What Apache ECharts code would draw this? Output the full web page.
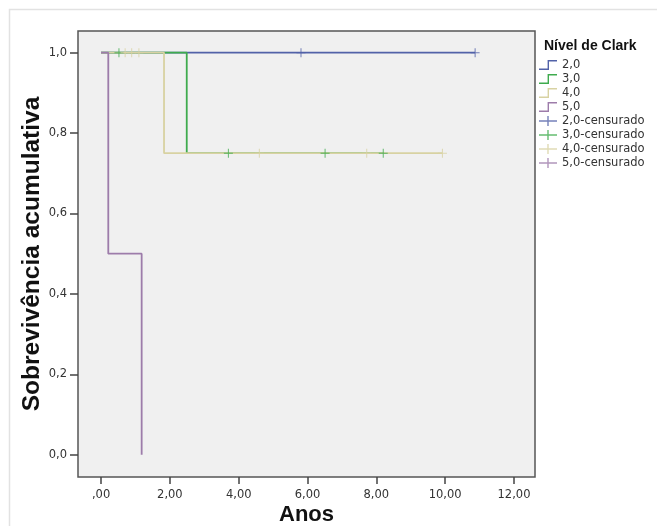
<!DOCTYPE html>
<html><head><meta charset="utf-8">
<script src="https://cdn.jsdelivr.net/npm/echarts@6/dist/echarts.min.js"></script>
<style>html,body{margin:0;padding:0;background:#fff}#c{width:657px;height:526px}</style>
</head><body><div id="c"></div>
<script>
// ---- data ----
const groupNames = ['2,0', '3,0', '4,0', '5,0'];
const censorNames = ['2,0-censurado', '3,0-censurado', '4,0-censurado', '5,0-censurado'];
// Kaplan-Meier step points [anos, sobrevivência]
const curve20 = [[0, 1], [10.87, 1]];
const curve30 = [[0, 1], [2.49, 0.75], [8.20, 0.75]];
const curve40 = [[0, 1], [1.83, 0.75], [9.92, 0.75]];
const curve50 = [[0, 1], [0.21, 0.5], [1.18, 0]];
// censored observations
const cens20 = [[5.81, 1], [10.87, 1]];
const cens30 = [[0.52, 1], [3.70, 0.75], [6.51, 0.75], [8.20, 0.75]];
const cens40 = [[0.70, 1], [0.89, 1], [1.10, 1], [4.60, 0.75], [7.72, 0.75], [9.92, 0.75]];
const cens50 = [];
const xTicks = [0, 2, 4, 6, 8, 10, 12];
const yTicks = [0, 0.2, 0.4, 0.6, 0.8, 1.0];

// ---- styling ----
const colors = ['#5262a8', '#3fab4e', '#d8d2a2', '#9d7caa'];
const curves = [curve20, curve30, curve40, curve50];
const cens = [cens20, cens30, cens40, cens50];
const plusPath = 'path://M4,0 L5,0 L5,4 L9,4 L9,5 L5,5 L5,9 L4,9 L4,5 L0,5 L0,4 L4,4 Z';
const stepIcon = 'path://M0,8.6 L8.6,8.6 L8.6,0 L18,0 L18,1.4 L10,1.4 L10,10 L0,10 Z';
const plusIcon = 'path://M8.3,0 L9.7,0 L9.7,4.3 L18,4.3 L18,5.7 L9.7,5.7 L9.7,10 L8.3,10 L8.3,5.7 L0,5.7 L0,4.3 L8.3,4.3 Z';

function fmtX(v) { const s = v.toFixed(2).replace('.', ','); return s.startsWith('0,') ? s.slice(1) : s; }
function fmtY(v) { return v.toFixed(1).replace('.', ','); }

const series = [];
curves.forEach((d, i) => {
  series.push({
    name: groupNames[i], type: 'line', step: 'end', data: d, showSymbol: false, symbol: 'none',
    lineStyle: { color: colors[i], width: 1.8 }, itemStyle: { color: colors[i] }, z: 2 + i, animation: false
  });
});
cens.forEach((d, i) => {
  series.push({
    name: censorNames[i], type: 'scatter', data: d, symbol: plusPath, symbolSize: 9,
    itemStyle: { color: colors[i] }, z: 10 + i, animation: false
  });
});

const legendData = groupNames.map(n => ({ name: n, icon: stepIcon }))
  .concat(censorNames.map(n => ({ name: n, icon: plusIcon })));

const chart = echarts.init(document.getElementById('c'), null, { renderer: 'canvas' });
chart.setOption({
  backgroundColor: '#ffffff',
  animation: false,
  title: {
    text: 'Nível de Clark', left: 539, top: 34,
    textStyle: { fontFamily: 'Liberation Sans', fontWeight: 'bold', fontSize: 14, color: '#111' }
  },
  legend: {
    data: legendData, orient: 'vertical', left: 539, top: 59,
    itemWidth: 18, itemHeight: 10, itemGap: 2, padding: 0,
    selectedMode: false,
    itemStyle: { borderWidth: 0 },
    textStyle: { fontFamily: 'DejaVu Sans', fontSize: 11.5, color: '#333' }
  },
  graphic: [{
    type: 'rect', shape: { x: 9.5, y: 9.5, width: 700, height: 600 },
    style: { fill: null, stroke: '#e2e2e2', lineWidth: 1.5 }, silent: true, z: -1
  }],
  grid: {
    left: 78, top: 31, width: 457, height: 446,
    outerBoundsMode: 'none', containLabel: false,
    show: true, backgroundColor: '#f0f0f0', borderColor: '#555', borderWidth: 1.5
  },
  xAxis: {
    type: 'value', min: -0.67, max: 12.61, position: 'bottom',
    name: 'Anos', nameLocation: 'middle', nameGap: 27, nameMoveOverlap: false,
    nameTextStyle: { fontFamily: 'Liberation Sans', fontWeight: 'bold', fontSize: 22, color: '#111' },
    axisLine: { show: false, onZero: false },
    splitLine: { show: false },
    axisTick: { show: true, inside: false, customValues: xTicks, length: 7, lineStyle: { color: '#444', width: 1.5 } },
    axisLabel: { customValues: xTicks, formatter: fmtX, margin: 12, fontFamily: 'DejaVu Sans', fontSize: 11.5, color: '#333' }
  },
  yAxis: {
    type: 'value', min: -0.0555, max: 1.054, position: 'left',
    name: 'Sobrevivência acumulativa', nameLocation: 'middle', nameGap: 33, nameRotate: 90, nameMoveOverlap: false,
    nameTextStyle: { fontFamily: 'Liberation Sans', fontWeight: 'bold', fontSize: 24.5, color: '#111' },
    axisLine: { show: false, onZero: false },
    splitLine: { show: false },
    axisTick: { show: true, inside: false, customValues: yTicks, length: 8, lineStyle: { color: '#444', width: 1.5 } },
    axisLabel: { customValues: yTicks, formatter: fmtY, margin: 11, fontFamily: 'DejaVu Sans', fontSize: 11.5, color: '#333' }
  },
  series: series
});
</script></body></html>
